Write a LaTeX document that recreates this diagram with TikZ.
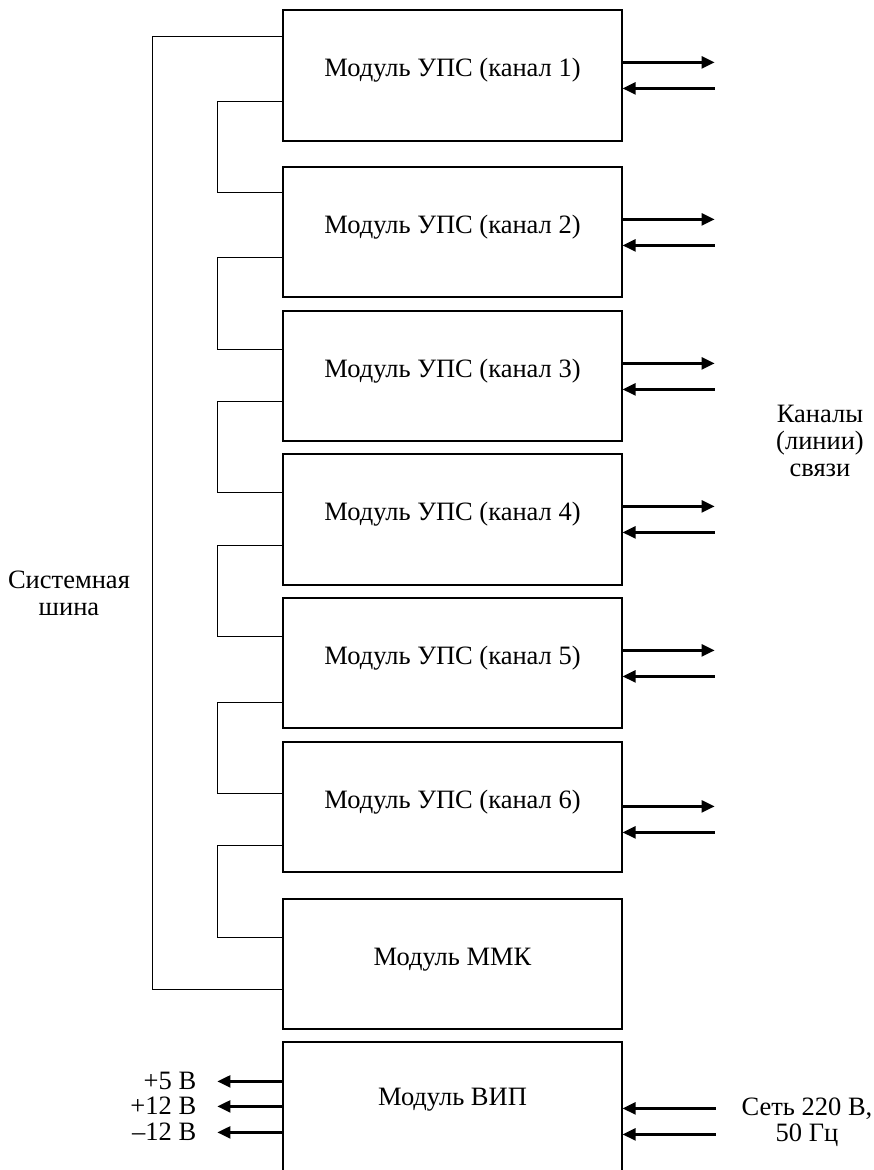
\documentclass[tikz,border=0pt]{standalone}
\usepackage{fontspec}
\setmainfont{Liberation Serif}
\usetikzlibrary{arrows.meta}
\begin{document}
\begin{tikzpicture}[x=1pt,y=-1pt,
  modbox/.style={draw, line width=1.2pt, minimum width=339pt, minimum height=130pt, inner sep=0pt},
  lbl/.style={font=\fontsize{26.5}{29}\selectfont, inner sep=0pt},
  wire/.style={line width=1.2pt},
  sig/.style={line width=2.4pt, -{Triangle[length=13pt,width=12pt]}}]
\useasboundingbox (0,0) rectangle (874,1170);
% boxes
\node[modbox, minimum height=131pt] (b1) at (452.5,75.5) {};
\node[modbox] (b2) at (452.5,232) {};
\node[modbox] (b3) at (452.5,376) {};
\node[modbox, minimum height=131pt] (b4) at (452.5,519.5) {};
\node[modbox] (b5) at (452.5,663) {};
\node[modbox] (b6) at (452.5,807) {};
\node[modbox] (mmk) at (452.5,964) {};
\node[modbox] (vip) at (452.5,1107) {};
% texts
\node[lbl, anchor=base] (t1) at ([yshift=-1pt]b1.center) {Модуль УПС (канал 1)};
\node[lbl, anchor=base] (t2) at ([yshift=-1pt]b2.center) {Модуль УПС (канал 2)};
\node[lbl, anchor=base] (t3) at ([yshift=-1pt]b3.center) {Модуль УПС (канал 3)};
\node[lbl, anchor=base] (t4) at ([yshift=-1pt]b4.center) {Модуль УПС (канал 4)};
\node[lbl, anchor=base] (t5) at ([yshift=-1pt]b5.center) {Модуль УПС (канал 5)};
\node[lbl, anchor=base] (t6) at ([yshift=-1pt]b6.center) {Модуль УПС (канал 6)};
\node[lbl, anchor=base] (tm) at ([yshift=-1pt]mmk.center) {Модуль ММК};
\node[lbl, anchor=base] (tv) at ([yshift=2pt]vip.center) {Модуль ВИП};
% daisy-chain connectors
\draw[wire] ([yshift=-92pt]b1.north west) -- ++(-65pt,0) |- ([yshift=-26pt]b2.north west);
\draw[wire] ([yshift=-91pt]b2.north west) -- ++(-65pt,0) |- ([yshift=-39pt]b3.north west);
\draw[wire] ([yshift=-91pt]b3.north west) -- ++(-65pt,0) |- ([yshift=-39pt]b4.north west);
\draw[wire] ([yshift=-92pt]b4.north west) -- ++(-65pt,0) |- ([yshift=-39pt]b5.north west);
\draw[wire] ([yshift=-105pt]b5.north west) -- ++(-65pt,0) |- ([yshift=-52pt]b6.north west);
\draw[wire] ([yshift=-104pt]b6.north west) -- ++(-65pt,0) |- ([yshift=-39pt]mmk.north west);
% system bus
\draw[wire] ([yshift=-27pt]b1.north west) -- ++(-130pt,0) |- ([yshift=-91pt]mmk.north west);
% channel arrows
\foreach \b/\o/\i in {b1/53/79, b2/53/79, b3/53/79, b4/53/79, b5/53/79, b6/65/91}{
  \draw[sig] ([yshift=-\o pt]\b.north east) -- ++(92pt,0);
  \draw[sig] ([yshift=-\i pt]\b.north east) ++(92pt,0) -- ([yshift=-\i pt]\b.north east);
}
% power outputs
\draw[sig] ([yshift=-40pt]vip.north west) -- ++(-65pt,0) coordinate (p5);
\draw[sig] ([yshift=-65pt]vip.north west) -- ++(-65pt,0) coordinate (p12);
\draw[sig] ([yshift=-91pt]vip.north west) -- ++(-65pt,0) coordinate (m12);
\node[lbl, anchor=base east] (l5) at ([xshift=-21pt,yshift=-8.5pt]p5) {+5 В};
\node[lbl, anchor=base east] (l12) at ([xshift=-21pt,yshift=-8.5pt]p12) {+12 В};
\node[lbl, anchor=base east] (lm12) at ([xshift=-21pt,yshift=-8.5pt]m12) {–12 В};
% mains input
\draw[sig] ([yshift=-67pt]vip.north east) ++(93pt,0) -- ([yshift=-67pt]vip.north east);
\draw[sig] ([yshift=-93pt]vip.north east) ++(93pt,0) -- ([yshift=-93pt]vip.north east);
\node[lbl, anchor=base] (net1) at (807,1115) {Сеть 220 В,};
\node[lbl, anchor=base] (net2) at (807,1141) {50 Гц};
% side labels
\node[lbl, anchor=base] (ch1) at (820,422) {Каналы};
\node[lbl, anchor=base] (ch2) at (820,449) {(линии)};
\node[lbl, anchor=base] (ch3) at (820,476) {связи};
\node[lbl, anchor=base] (sb1) at (69,588) {Системная};
\node[lbl, anchor=base] (sb2) at (69,615) {шина};
\end{tikzpicture}
\end{document}
